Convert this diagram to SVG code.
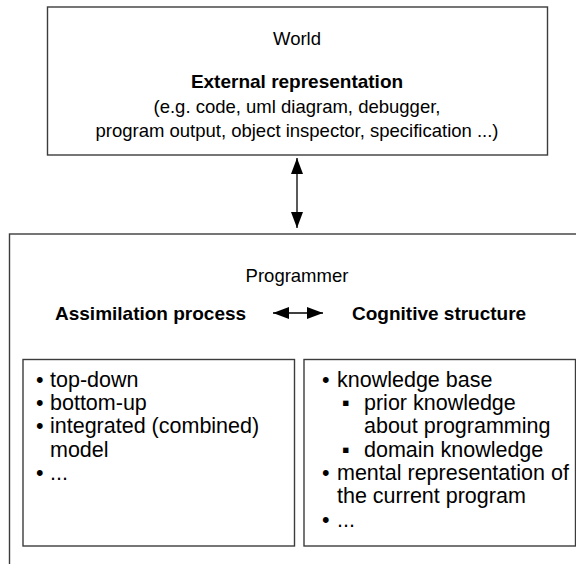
<svg xmlns="http://www.w3.org/2000/svg" width="576" height="564" viewBox="0 0 576 564">
<defs>
<marker id="ah" viewBox="0 0 16 12" refX="16" refY="6" markerWidth="16" markerHeight="12" markerUnits="userSpaceOnUse" orient="auto-start-reverse">
<path d="M0,0 L16,6 L0,12 Z" fill="#000"/>
</marker>
<style>
.box{fill:#fff;stroke:#3c3c3c;stroke-width:1.4}
.t{font-family:"Liberation Sans",Arial,sans-serif;fill:#000}
.h{font-size:18.5px;text-anchor:middle}
.b{font-weight:bold;font-size:19px}
.l{font-size:21.5px}
.c{stroke:#000;stroke-width:1.3;fill:none}
</style>
</defs>
<rect width="576" height="564" fill="#fff"/>
<g id="world">
<rect class="box" x="47.5" y="7" width="500" height="148"/>
<text class="t h" x="297" y="45">World</text>
<text class="t h b" x="297" y="88">External representation</text>
<text class="t h" x="297" y="113">(e.g. code, uml diagram, debugger,</text>
<text class="t h" x="297" y="137">program output, object inspector, specification ...)</text>
</g>
<g id="programmer">
<rect class="box" x="9.5" y="234" width="620" height="400"/>
<text class="t h" x="297" y="282">Programmer</text>
<text class="t b" x="55" y="320">Assimilation process</text>
<text class="t b" x="352" y="320">Cognitive structure</text>
</g>
<g id="assimilation">
<rect class="box" x="23" y="359.5" width="271.5" height="186.5"/>
<g class="t l">
<text x="36" y="387">•</text><text x="50" y="387">top-down</text>
<text x="36" y="410">•</text><text x="50" y="410">bottom-up</text>
<text x="36" y="433">•</text><text x="50" y="433">integrated (combined)</text>
<text x="50" y="457">model</text>
<text x="36" y="480">•</text><text x="50" y="480">...</text>
</g>
</g>
<g id="cognitive">
<rect class="box" x="304" y="359.5" width="271.5" height="186.5"/>
<g class="t l">
<text x="322" y="387">•</text><text x="337" y="387">knowledge base</text>
<text x="342" y="410">▪</text><text x="364" y="410">prior knowledge</text>
<text x="364" y="433">about programming</text>
<text x="342" y="457">▪</text><text x="364" y="457">domain knowledge</text>
<text x="322" y="480">•</text><text x="337" y="480">mental representation of</text>
<text x="337" y="503">the current program</text>
<text x="322" y="527">•</text><text x="337" y="527">...</text>
</g>
</g>
<g id="connectors">
<line class="c" x1="297" y1="158" x2="297" y2="228" marker-start="url(#ah)" marker-end="url(#ah)"/>
<line class="c" x1="273" y1="313" x2="323" y2="313" marker-start="url(#ah)" marker-end="url(#ah)"/>
</g>
</svg>
